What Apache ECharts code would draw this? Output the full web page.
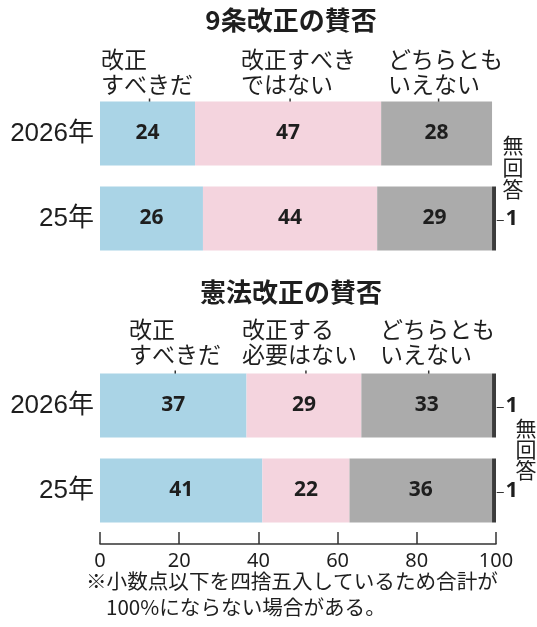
<!DOCTYPE html>
<html><head><meta charset="utf-8">
<script src="https://cdn.jsdelivr.net/npm/echarts@6/dist/echarts.min.js"></script>
<style>html,body{margin:0;padding:0;background:#fff}#c{width:537px;height:627px}</style>
</head><body><div id="c"></div>
<script>
// ---- data ----
const years = ['2026年', '25年'];
const art9Yes = [24, 26];
const art9No = [47, 44];
const art9Neutral = [28, 29];
const art9NA = [0, 1];
const constYes = [37, 41];
const constNo = [29, 22];
const constNeutral = [33, 36];
const constNA = [1, 1];
const art9Names = ['改正\nすべきだ', '改正すべき\nではない', 'どちらとも\nいえない', '無回答'];
const constNames = ['改正\nすべきだ', '改正する\n必要はない', 'どちらとも\nいえない', '無回答'];
const titles = ['9条改正の賛否', '憲法改正の賛否'];
const note = ['※小数点以下を四捨五入しているため合計が', '100%にならない場合がある。'];

const FONT = '"Noto Sans CJK JP","Noto Sans",sans-serif';
const LATIN = '"Liberation Sans","Noto Sans CJK JP",sans-serif';
const COLORS = ['#aad4e6', '#f4d4de', '#ababab', '#3c3c3c'];
const TXT = '#1e1e1e';

const chart = echarts.init(document.getElementById('c'));

function makeSeries(gi, vals, names) {
  return vals.map((v, i) => ({
    name: names[i].replace('\n', ''),
    type: 'bar',
    stack: 'g' + gi,
    xAxisIndex: gi, yAxisIndex: gi,
    barWidth: 64,
    data: v,
    itemStyle: { color: COLORS[i] },
    label: i < 3 ? {
      show: true, position: 'inside', fontFamily: '"Noto Sans",sans-serif', fontSize: 21, fontWeight: 'bold', color: TXT
    } : {
      show: true, position: 'right', distance: 0,
      formatter: p => p.value ? '{a|–}{b|' + p.value + '}' : '',
      rich: {
        a: { fontFamily: FONT, fontSize: 16, color: '#333', padding: [0, 1, 0, 0] },
        b: { fontFamily: '"Noto Sans",sans-serif', fontSize: 22, fontWeight: 'bold', color: TXT }
      }
    }
  }));
}

const yAx = gi => ({
  gridIndex: gi, type: 'category', data: years, inverse: true,
  axisLine: { show: false }, axisTick: { show: false },
  axisLabel: { fontFamily: LATIN, fontSize: 26, color: TXT, margin: 6 }
});

const option = {
  animation: false,
  grid: [
    { left: 100, right: 41, top: 91, height: 170 },
    { left: 100, right: 41, top: 363, height: 170 }
  ],
  xAxis: [
    { gridIndex: 0, type: 'value', min: 0, max: 100, interval: 20, show: false },
    { gridIndex: 1, type: 'value', min: 0, max: 100, interval: 20, position: 'bottom', offset: 11,
      axisLine: { show: true, lineStyle: { color: '#333', width: 1.5 } },
      axisTick: { show: true, inside: true, length: 12, lineStyle: { color: '#333', width: 1.5 } },
      axisLabel: { fontFamily: '"Noto Sans",sans-serif', fontSize: 20, color: TXT, margin: 7, showMaxLabel: true, showMinLabel: true },
      splitLine: { show: false } }
  ],
  yAxis: [yAx(0), yAx(1)],
  series: [
    ...makeSeries(0, [art9Yes, art9No, art9Neutral, art9NA], art9Names),
    ...makeSeries(1, [constYes, constNo, constNeutral, constNA], constNames)
  ]
};
chart.setOption(option);

// ---- annotations (titles, category labels with leaders, notes) ----
const g = [];
const txt = (x, y, s, size, opts) => g.push({
  type: 'text', x, y, silent: true,
  style: Object.assign({ text: s, fontFamily: FONT, fontSize: size, fill: TXT }, opts || {})
});
txt(291, 20, titles[0], 26, { fontWeight: 'bold', align: 'center', verticalAlign: 'middle' });
txt(291, 292, titles[1], 26, { fontWeight: 'bold', align: 'center', verticalAlign: 'middle' });

const legendX = [[101, 241, 388], [129, 242, 380]];
const legendTop = [47, 317];
const groups = [
  { vals: [art9Yes, art9No, art9Neutral], names: art9Names },
  { vals: [constYes, constNo, constNeutral], names: constNames }
];
groups.forEach((grp, gi) => {
  let cum = 0;
  const yc = chart.convertToPixel({ yAxisIndex: gi }, years[0]);
  const barTop = yc - 32;
  grp.vals.forEach((arr, si) => {
    const mid = cum + arr[0] / 2;
    cum += arr[0];
    const x = chart.convertToPixel({ xAxisIndex: gi }, mid) + 2;
    g.push({ type: 'line', silent: true, shape: { x1: x, y1: barTop - 3, x2: x, y2: barTop + 12 },
      style: { stroke: '#333', lineWidth: 1.5 } });
    txt(legendX[gi][si], legendTop[gi], grp.names[si], 23, { lineHeight: 25 });
  });
});
txt(513, 134, '無\n回\n答', 21, { lineHeight: 22, align: 'center' });
txt(526, 418, '無\n回\n答', 21, { lineHeight: 21, align: 'center' });
txt(86, 581, note[0], 20.6, { verticalAlign: 'middle' });
txt(106, 607, note[1], 20.6, { verticalAlign: 'middle' });

chart.setOption({ graphic: g });
</script>
</body></html>
